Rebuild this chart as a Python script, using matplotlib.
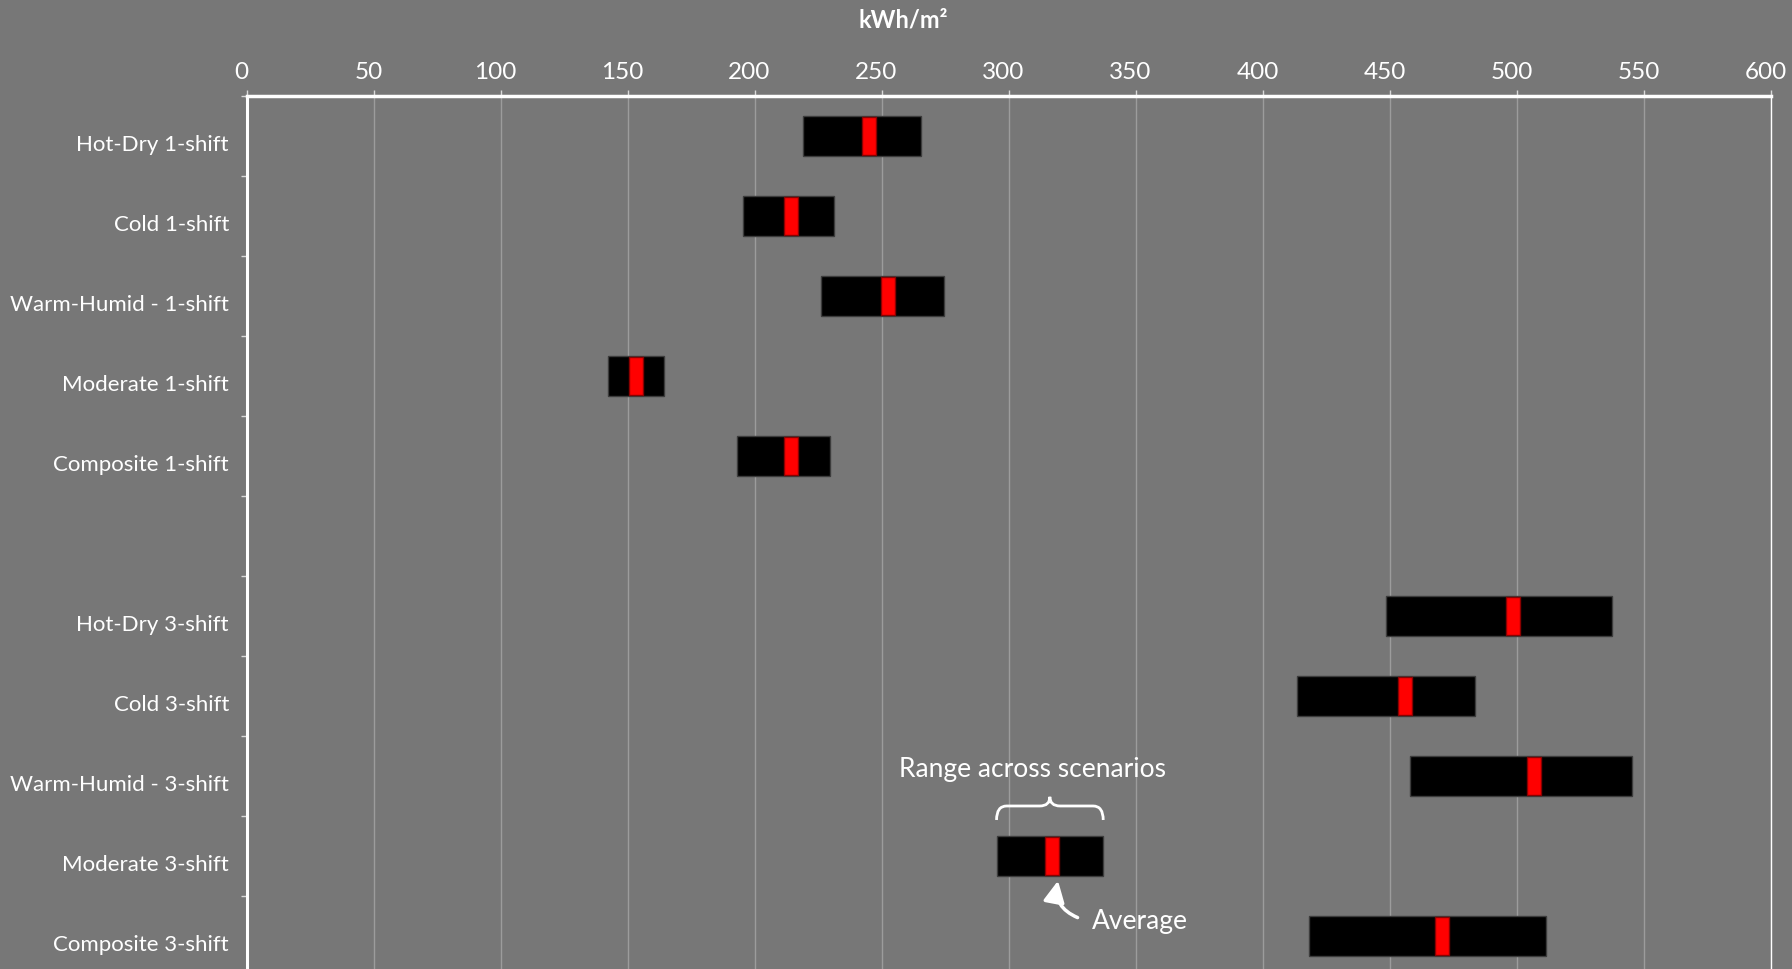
import numpy as np
import matplotlib
matplotlib.use("Agg")
import matplotlib.pyplot as plt
from matplotlib.path import Path
from matplotlib.patches import PathPatch
from matplotlib.transforms import ScaledTranslation

plt.rcParams['font.family'] = ['Lato', 'DejaVu Sans']

# ---- data ----
categories = ['Hot-Dry 1-shift', 'Cold 1-shift', 'Warm-Humid - 1-shift', 'Moderate 1-shift',
              'Composite 1-shift', '', 'Hot-Dry 3-shift', 'Cold 3-shift',
              'Warm-Humid - 3-shift', 'Moderate 3-shift', 'Composite 3-shift']
range_low = [219.0, 195.2, 225.8, 142.0, 192.9, None, 448.3, 413.3, 458.0, 295.1, 418.1]
range_high = [265.4, 231.2, 274.4, 164.3, 229.5, None, 537.3, 483.5, 545.3, 337.1, 511.3]
average = [245.0, 214.1, 252.4, 153.1, 214.2, None, 498.5, 455.8, 506.6, 317.1, 470.3]
x_ticks = [0, 50, 100, 150, 200, 250, 300, 350, 400, 450, 500, 550, 600]
axis_title = 'kWh/m²'

BG = '#777777'
fig = plt.figure(figsize=(17.92, 9.70), dpi=100, facecolor=BG)
ax = fig.add_axes([0.1378, -0.0072, 0.8505, 0.9072])
ax.set_facecolor(BG)

ypos = np.arange(len(categories))
bar_h = 0.5
avg_w = 5.5
for i, (lo, hi, av) in enumerate(zip(range_low, range_high, average)):
    if lo is None:
        continue
    ax.barh(i, hi - lo, left=lo, height=bar_h, color='black', edgecolor='#3c3c3c',
            linewidth=1.0, zorder=3)
    ax.barh(i, avg_w, left=av - avg_w / 2, height=bar_h * 0.94, color='#ff0000',
            edgecolor='#8a0000', linewidth=1.0, zorder=4)

ax.set_xlim(0, 600)
ax.set_ylim(len(categories) - 0.5, -0.5)

ax.xaxis.tick_top()
ax.set_xticks(x_ticks)
ax.set_xticklabels([str(t) for t in x_ticks])
ax.tick_params(axis='x', colors='#d9d9d9', labelcolor='white', labelsize=17.5,
               length=4, width=1, pad=6, direction='out')
xshift = ScaledTranslation(-4 / 72, 0, fig.dpi_scale_trans)
for lbl in ax.get_xticklabels():
    lbl.set_transform(lbl.get_transform() + xshift)
ax.grid(axis='x', color='#9c9c9c', linewidth=1.0, zorder=0)
ax.grid(axis='y', visible=False)

ax.set_yticks(ypos)
ax.set_yticklabels(categories)
ax.set_yticks(np.arange(-0.5, len(categories), 1.0), minor=True)
ax.tick_params(axis='y', which='major', length=0, labelcolor='white', labelsize=16, pad=13)
ax.tick_params(axis='y', which='minor', length=4, width=1, color='#d9d9d9', direction='out')
shift = ScaledTranslation(0, -4 / 72, fig.dpi_scale_trans)
for lbl in ax.get_yticklabels():
    lbl.set_transform(lbl.get_transform() + shift)

ax.spines['bottom'].set_visible(False)
ax.spines['top'].set_color('white')
ax.spines['top'].set_linewidth(2.5)
ax.spines['left'].set_color('white')
ax.spines['left'].set_linewidth(2.2)
ax.spines['right'].set_color('white')
ax.spines['right'].set_linewidth(1.0)

fig.text(0.504, 0.979, axis_title, ha='center', va='center', color='white',
         fontsize=17, fontweight='bold')

# ---- annotations on the Moderate 3-shift row ----
row = 9
x0, x1 = range_low[row], range_high[row]
xc = (x0 + x1) / 2
yb, ym, yt = row - 0.45, row - 0.625, row - 0.74
r = 4.0
verts = [(x0, yb), (x0, ym), (x0 + r, ym), (xc - r, ym), (xc, ym), (xc, yt),
         (xc, ym), (xc + r, ym), (x1 - r, ym), (x1, ym), (x1, yb)]
codes = [Path.MOVETO, Path.CURVE3, Path.CURVE3, Path.LINETO, Path.CURVE3, Path.CURVE3,
         Path.CURVE3, Path.CURVE3, Path.LINETO, Path.CURVE3, Path.CURVE3]
ax.add_patch(PathPatch(Path(verts, codes), facecolor='none', edgecolor='white',
                       linewidth=2.0, zorder=5, clip_on=False))
ax.text(309.1, row - 1.09, 'Range across scenarios', ha='center', va='center',
        color='white', fontsize=19, zorder=5)
ax.annotate('', xy=(average[row] + 2.2, row + 0.31), xytext=(327.0, row + 0.77),
            arrowprops=dict(arrowstyle='-|>', color='white', lw=2.5,
                            connectionstyle='arc3,rad=-0.4', mutation_scale=32,
                            shrinkA=0, shrinkB=0), zorder=5)
ax.text(332.7, row + 0.81, 'Average', ha='left', va='center', color='white',
        fontsize=19, zorder=5)

fig.savefig('out.png', dpi=100, facecolor=BG)
